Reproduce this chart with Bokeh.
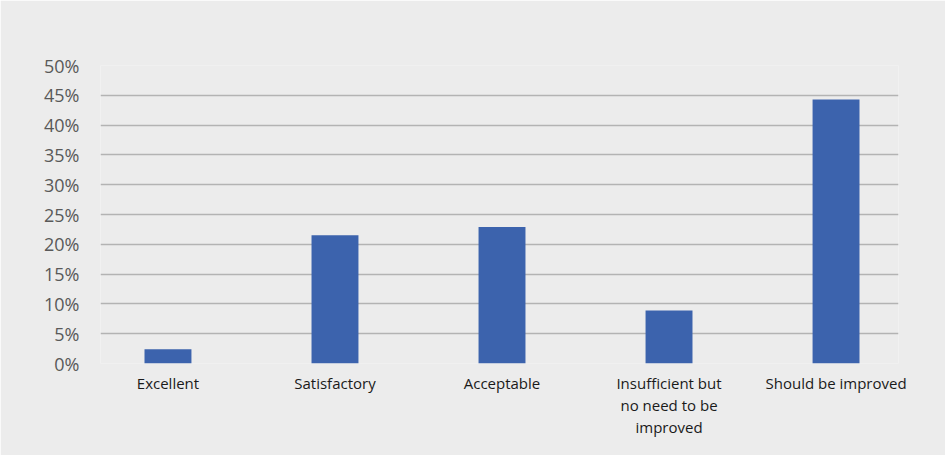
from bokeh.plotting import figure
from bokeh.models import FixedTicker, NumeralTickFormatter, ColumnDataSource, Range1d
from bokeh.embed import file_html
from bokeh.resources import INLINE

categories = ["Excellent", "Satisfactory", "Acceptable",
              "Insufficient but\nno need to be\nimproved", "Should be improved"]
values = [0.024, 0.215, 0.229, 0.089, 0.443]
y_ticks = [0.0, 0.05, 0.10, 0.15, 0.20, 0.25, 0.30, 0.35, 0.40, 0.45, 0.50]

xs = list(range(len(categories)))
src = ColumnDataSource(dict(x=xs, top=values))

W, H = 945, 455
p = figure(width=W, height=H, output_backend="svg", toolbar_location=None,
           x_range=Range1d(-0.404, 4.374), y_range=Range1d(0, 0.5),
           min_border_left=100, min_border_right=W - 898, min_border_top=65,
           min_border_bottom=H - 65 - 298)
p.background_fill_color = "#ececec"
p.border_fill_color = "#ececec"
p.outline_line_color = None

p.vbar(x="x", top="top", bottom=0, width=0.281, source=src,
       fill_color="#3c63ad", line_color=None)

p.xgrid.visible = False
p.ygrid.ticker = FixedTicker(ticks=y_ticks)
p.ygrid.grid_line_color = "#b3b3b3"
p.ygrid.grid_line_width = 1.5

p.yaxis.ticker = FixedTicker(ticks=y_ticks)
p.yaxis.formatter = NumeralTickFormatter(format="0%")
p.yaxis.axis_line_color = None
p.yaxis.major_tick_line_color = None
p.yaxis.minor_tick_line_color = None
p.yaxis.major_label_standoff = 15
p.yaxis.major_label_text_font = "Open Sans"
p.yaxis.major_label_text_font_size = "18px"
p.yaxis.major_label_text_color = "#595959"

p.xaxis.ticker = FixedTicker(ticks=xs)
p.xaxis.major_label_overrides = {i: c for i, c in zip(xs, categories)}
p.xaxis.axis_line_color = None
p.xaxis.major_tick_line_color = None
p.xaxis.minor_tick_line_color = None
p.xaxis.major_label_standoff = 3
p.xaxis.major_label_text_font = "Open Sans"
p.xaxis.major_label_text_font_size = "15px"
p.xaxis.major_label_text_line_height = 1.1
p.xaxis.major_label_text_color = "#1a1a1a"

open("out.html", "w").write(file_html(p, INLINE))
